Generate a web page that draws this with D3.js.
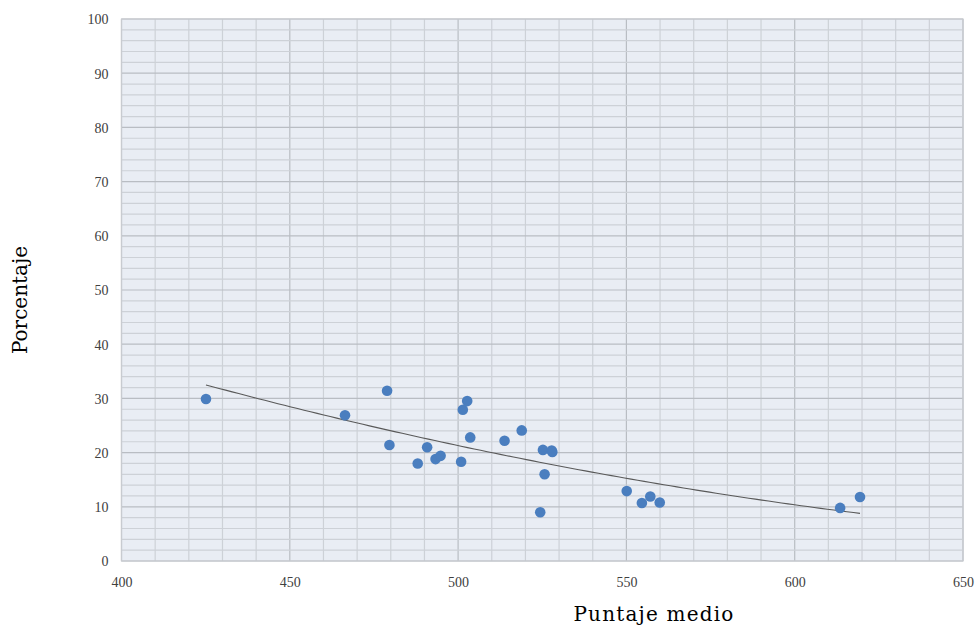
<!DOCTYPE html>
<html>
<head>
<meta charset="utf-8">
<script src="https://cdn.jsdelivr.net/npm/d3@7"></script>
<style>
  html, body { margin: 0; padding: 0; background: #ffffff; }
  svg { display: block; }
  .tick text { font-family: "Liberation Serif", "DejaVu Serif", serif; }
</style>
</head>
<body>
<svg id="chart" width="976" height="627"></svg>
<script>
// Mean score (x) and percentage (y) for each country
const puntajeMedio = [425.1, 466.4, 478.9, 479.6, 488.0, 490.8, 493.3, 494.8, 500.9, 501.4,
                      502.7, 503.6, 513.8, 518.9, 525.2, 527.8, 528.0, 525.7, 524.4, 550.1,
                      554.6, 557.1, 559.9, 613.5, 619.4];
const porcentaje   = [29.9, 26.9, 31.4, 21.4, 18.0, 21.0, 18.8, 19.4, 18.3, 27.9,
                      29.5, 22.8, 22.2, 24.1, 20.5, 20.4, 20.1, 16.0, 9.0, 12.9,
                      10.7, 11.9, 10.8, 9.8, 11.8];
const xTicks = [400, 450, 500, 550, 600, 650];
const yTicks = [0, 10, 20, 30, 40, 50, 60, 70, 80, 90, 100];

const svg = d3.select("#chart");
const margin = { left: 121.5, top: 19, right: 976 - 963, bottom: 627 - 561 };
const W = 976, H = 627;

const x = d3.scaleLinear().domain([400, 650]).range([margin.left, W - margin.right]);
const y = d3.scaleLinear().domain([0, 100]).range([H - margin.bottom, margin.top]);

// plot background
svg.append("rect")
  .attr("x", x(400)).attr("y", y(100))
  .attr("width", x(650) - x(400)).attr("height", y(0) - y(100))
  .attr("fill", "#e9edf4");

// minor / major grid
const g = svg.append("g");
d3.range(400, 651, 10).forEach(v => {
  g.append("line")
    .attr("x1", x(v)).attr("x2", x(v)).attr("y1", y(0)).attr("y2", y(100))
    .attr("stroke", v % 50 === 0 ? "#b9bdc3" : "#cdd1d7").attr("stroke-width", 1.2);
});
d3.range(0, 101, 2).forEach(v => {
  g.append("line")
    .attr("x1", x(400)).attr("x2", x(650)).attr("y1", y(v)).attr("y2", y(v))
    .attr("stroke", v % 10 === 0 ? "#b9bdc3" : "#cdd1d7").attr("stroke-width", 1.2);
});

// plot border
svg.append("rect")
  .attr("x", x(400)).attr("y", y(100))
  .attr("width", x(650) - x(400)).attr("height", y(0) - y(100))
  .attr("fill", "none").attr("stroke", "#c8cbd0").attr("stroke-width", 1.2);

// axes (labels only)
const yAxis = svg.append("g")
  .attr("transform", `translate(${x(400) - 13},0)`)
  .call(d3.axisLeft(y).tickValues(yTicks).tickSize(0).tickPadding(0));
yAxis.select(".domain").remove();
yAxis.selectAll("text").attr("font-size", 14).attr("fill", "#404040").attr("dy", "0.35em");

const xAxis = svg.append("g")
  .attr("transform", `translate(0,${y(0) + 16})`)
  .call(d3.axisBottom(x).tickValues(xTicks).tickSize(0).tickPadding(0));
xAxis.select(".domain").remove();
xAxis.selectAll("text").attr("font-size", 14).attr("fill", "#404040").attr("dy", "0.71em");

// second-order polynomial trendline fitted to the data (least squares)
function polyFit2(xs, ys) {
  const n = xs.length;
  const mx = d3.mean(xs);
  const u = xs.map(v => v - mx);
  let s = [0, 0, 0, 0, 0], t = [0, 0, 0];
  for (let i = 0; i < n; i++) {
    for (let k = 0; k < 5; k++) s[k] += Math.pow(u[i], k);
    for (let k = 0; k < 3; k++) t[k] += ys[i] * Math.pow(u[i], k);
  }
  const A = [[s[0], s[1], s[2]], [s[1], s[2], s[3]], [s[2], s[3], s[4]]];
  const det = M => M[0][0]*(M[1][1]*M[2][2]-M[1][2]*M[2][1]) - M[0][1]*(M[1][0]*M[2][2]-M[1][2]*M[2][0]) + M[0][2]*(M[1][0]*M[2][1]-M[1][1]*M[2][0]);
  const D = det(A);
  const coef = [0, 1, 2].map(c => det(A.map((row, r) => row.map((val, j) => j === c ? t[r] : val))) / D);
  return v => coef[0] + coef[1] * (v - mx) + coef[2] * (v - mx) * (v - mx);
}
const fit = polyFit2(puntajeMedio, porcentaje);
const [xmin, xmax] = d3.extent(puntajeMedio);
const trendPts = d3.range(0, 101).map(i => xmin + (xmax - xmin) * i / 100);
svg.append("path")
  .datum(trendPts)
  .attr("fill", "none").attr("stroke", "#595959").attr("stroke-width", 1.1)
  .attr("d", d3.line().x(v => x(v)).y(v => y(fit(v))));

// points
svg.append("g").selectAll("circle")
  .data(puntajeMedio.map((v, i) => [v, porcentaje[i]]))
  .join("circle")
  .attr("cx", d => x(d[0])).attr("cy", d => y(d[1]))
  .attr("r", 5.3).attr("fill", "#4a7ebf");

// axis titles
svg.append("text")
  .attr("x", 654).attr("y", 621)
  .attr("text-anchor", "middle")
  .attr("font-family", "'DejaVu Serif', 'Liberation Serif', serif")
  .attr("font-size", 20).attr("letter-spacing", 1.2).attr("fill", "#000")
  .text("Puntaje medio");

svg.append("text")
  .attr("transform", "translate(27,300) rotate(-90)")
  .attr("text-anchor", "middle")
  .attr("font-family", "'DejaVu Serif', 'Liberation Serif', serif")
  .attr("font-size", 20).attr("fill", "#000")
  .text("Porcentaje");
</script>
</body>
</html>
